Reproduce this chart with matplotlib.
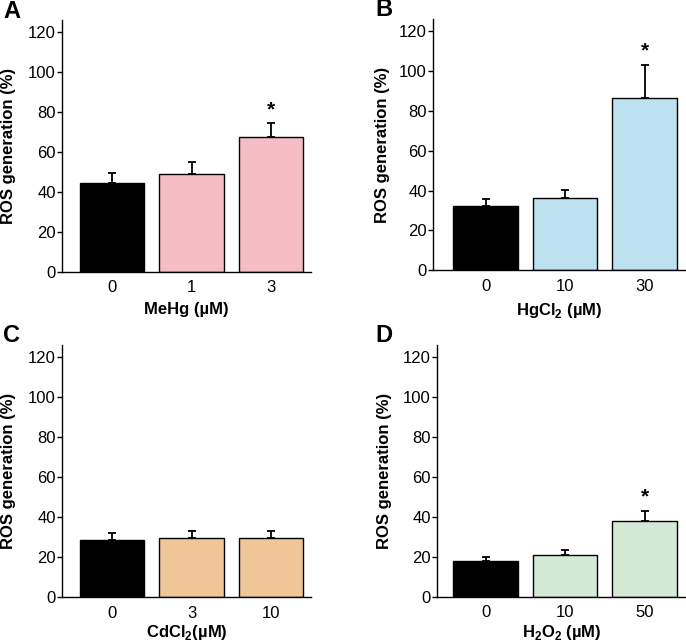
import matplotlib
matplotlib.use("Agg")
import matplotlib.pyplot as plt

plt.rcParams['font.family'] = ['Liberation Sans', 'DejaVu Sans']
plt.rcParams['mathtext.fontset'] = 'custom'
plt.rcParams['mathtext.rm'] = 'Liberation Sans'
plt.rcParams['mathtext.bf'] = 'Liberation Sans:bold'

# Data
a_labels = ["0", "1", "3"]
a_values = [44.5, 49.0, 67.7]
a_errors = [5.0, 6.0, 6.6]
a_sig = [False, False, True]

b_labels = ["0", "10", "30"]
b_values = [32.0, 36.3, 86.5]
b_errors = [4.0, 3.9, 16.5]
b_sig = [False, False, True]

c_labels = ["0", "3", "10"]
c_values = [28.5, 29.7, 29.8]
c_errors = [3.8, 3.3, 3.5]
c_sig = [False, False, False]

d_labels = ["0", "10", "50"]
d_values = [18.0, 21.2, 38.0]
d_errors = [2.2, 2.1, 5.2]
d_sig = [False, False, True]

panels = [
    dict(letter="A", labels=a_labels, values=a_values, errors=a_errors, sig=a_sig,
         color="#F5BEC4", xlabel=r"MeHg (µM)",
         rect=[62/686, 1-272/644, 249/686, 252/644], xlim=(-0.63, 2.50),
         lpos=(3/686, 1-11/644), ylx=-0.185, lp=5),
    dict(letter="B", labels=b_labels, values=b_values, errors=b_errors, sig=b_sig,
         color="#BEE1EF", xlabel=r"HgCl$_{\mathbf{2}}$ (µM)",
         rect=[433/686, 1-270.3/644, 253/686, 251.3/644], xlim=(-0.66, 2.52),
         lpos=(375/686, 1-10/644), ylx=-0.17, lp=5),
    dict(letter="C", labels=c_labels, values=c_values, errors=c_errors, sig=c_sig,
         color="#F0C597", xlabel=r"CdCl$_{\mathbf{2}}$(µM)",
         rect=[62/686, 1-597.3/644, 249/686, 252/644], xlim=(-0.63, 2.50),
         lpos=(3/686, 1-335/644), ylx=-0.185, lp=2),
    dict(letter="D", labels=d_labels, values=d_values, errors=d_errors, sig=d_sig,
         color="#D5EAD6", xlabel=r"H$_{\mathbf{2}}$O$_{\mathbf{2}}$ (µM)",
         rect=[437/686, 1-597/644, 249/686, 252/644], xlim=(-0.61, 2.52),
         lpos=(375/686, 1-336/644), ylx=-0.18, lp=2),
]

fig = plt.figure(figsize=(6.86, 6.44), dpi=100)

for p in panels:
    ax = fig.add_axes(p["rect"])
    x = list(range(len(p["values"])))
    colors = ["black"] + [p["color"]] * (len(x) - 1)
    ax.bar(x, p["values"], width=0.81, color=colors, edgecolor="black", linewidth=1.0, zorder=2)
    ax.errorbar(x, p["values"], yerr=[[0]*len(x), p["errors"]], fmt="none",
                ecolor="black", elinewidth=1.3, capsize=3, capthick=1.3, zorder=3)
    for xi, v, e, s in zip(x, p["values"], p["errors"], p["sig"]):
        if s:
            ax.annotate("*", (xi, v + e), xytext=(0, 3), textcoords="offset points",
                        ha="center", va="bottom", fontsize=15, fontweight="bold")
    ax.set_xlim(*p["xlim"])
    ax.set_ylim(0, 126)
    ax.set_yticks([0, 20, 40, 60, 80, 100, 120])
    ax.set_xticks(x)
    ax.set_xticklabels(p["labels"])
    ax.tick_params(axis="x", length=0, pad=6, labelsize=12)
    ax.tick_params(axis="y", length=3.5, width=1, pad=1, labelsize=12, direction="out")
    for s in ["top", "right"]:
        ax.spines[s].set_visible(False)
    ax.spines["left"].set_linewidth(1.0)
    ax.spines["bottom"].set_linewidth(1.0)
    ax.set_xlabel(p["xlabel"], fontsize=12, fontweight="bold", labelpad=p["lp"])
    ax.set_ylabel("ROS generation (%)", fontsize=12, fontweight="bold")
    ax.yaxis.set_label_coords(p["ylx"], 0.5)
    fig.text(p["lpos"][0], p["lpos"][1], p["letter"], fontsize=17, fontweight="bold",
             ha="left", va="center")

fig.savefig("out.png", dpi=100)
